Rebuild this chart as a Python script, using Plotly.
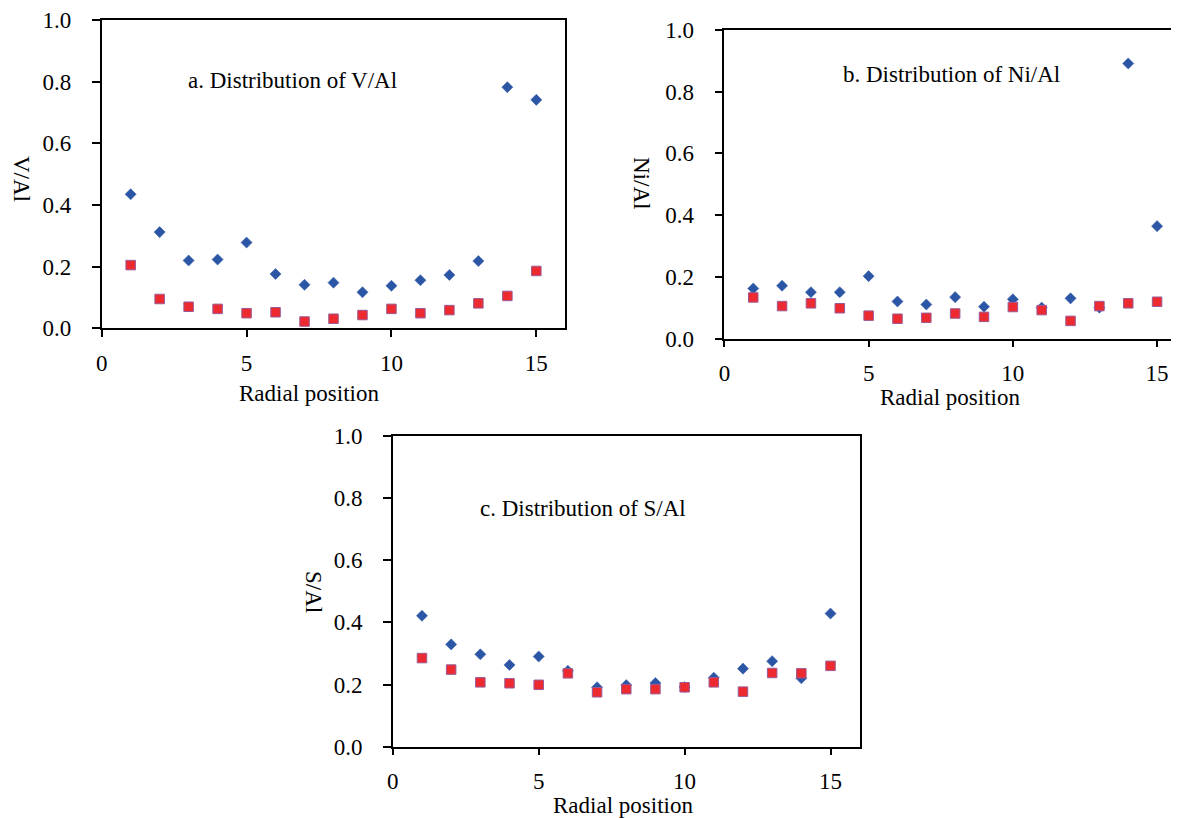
import plotly.graph_objects as go

# Reference canvas and the browser's default 8px body margin
W, H = 1179, 818
OFF = 8
FW, FH = W - OFF, H - OFF

positions = list(range(1, 16))

va_blue = [0.435, 0.312, 0.220, 0.223, 0.278, 0.176, 0.141, 0.148, 0.117, 0.138, 0.156, 0.173, 0.218, 0.782, 0.741]
va_red = [0.205, 0.095, 0.070, 0.063, 0.049, 0.052, 0.022, 0.031, 0.043, 0.063, 0.049, 0.059, 0.081, 0.105, 0.186]

ni_blue = [0.162, 0.171, 0.150, 0.150, 0.202, 0.120, 0.110, 0.134, 0.103, 0.127, 0.100, 0.130, 0.100, 0.891, 0.364]
ni_red = [0.133, 0.105, 0.114, 0.098, 0.074, 0.064, 0.067, 0.081, 0.070, 0.102, 0.092, 0.057, 0.105, 0.114, 0.119]

s_blue = [0.421, 0.329, 0.297, 0.263, 0.290, 0.244, 0.191, 0.198, 0.205, 0.192, 0.222, 0.251, 0.275, 0.220, 0.428]
s_red = [0.285, 0.248, 0.207, 0.204, 0.199, 0.236, 0.175, 0.185, 0.185, 0.191, 0.207, 0.177, 0.237, 0.236, 0.260]

y_ticks = [0.0, 0.2, 0.4, 0.6, 0.8, 1.0]
x_ticks = [0, 5, 10, 15]


def fx(px):
    return (px - OFF) / FW


def fy(py):
    return 1 - (py - OFF) / FH


panels = [
    dict(blue=va_blue, red=va_red, title="a. Distribution of V/Al", ytitle="V/Al",
         px=(101.7, 565.3), py=(20, 328.3), xmax=16, ymirror=True,
         tpos=(292, 80), ytpos=(22, 179), xtpos=(309, 393)),
    dict(blue=ni_blue, red=ni_red, title="b. Distribution of Ni/Al", ytitle="Ni/Al",
         px=(724.4, 1179), py=(29.8, 338.5), xmax=15.76, ymirror=False,
         tpos=(951, 75), ytpos=(641, 183), xtpos=(950, 397)),
    dict(blue=s_blue, red=s_red, title="c. Distribution of S/Al", ytitle="S/Al",
         px=(392.8, 859.7), py=(435.7, 746.7), xmax=16, ymirror=True,
         tpos=(583, 509), ytpos=(314, 592), xtpos=(623, 805)),
]

FONT = "Liberation Serif"
BLUE = "#2B56A6"
RED = "#EC2A30"
RED_EDGE = "#9A5A96"

fig = go.Figure()
annotations = []
layout_axes = {}

for i, p in enumerate(panels, start=1):
    xa = "x" if i == 1 else f"x{i}"
    ya = "y" if i == 1 else f"y{i}"
    fig.add_trace(go.Scatter(x=positions, y=p["blue"], mode="markers", xaxis=xa, yaxis=ya,
                             marker=dict(symbol="diamond", size=8.5, color=BLUE,
                                         line=dict(width=0.6, color="#3A5FA8")),
                             showlegend=False, cliponaxis=False))
    fig.add_trace(go.Scatter(x=positions, y=p["red"], mode="markers", xaxis=xa, yaxis=ya,
                             marker=dict(symbol="square", size=9.5, color=RED,
                                         line=dict(width=1, color=RED_EDGE)),
                             showlegend=False, cliponaxis=False))
    xkey = "xaxis" if i == 1 else f"xaxis{i}"
    ykey = "yaxis" if i == 1 else f"yaxis{i}"
    layout_axes[xkey] = dict(
        domain=[fx(p["px"][0]), min(1.0, fx(p["px"][1]))], anchor=ya, range=[0, p["xmax"]],
        tickvals=x_ticks, ticks="outside", ticklen=7, tickwidth=1.5, tickcolor="black",
        showline=True, linecolor="black", linewidth=1.5, mirror=True,
        showgrid=False, zeroline=False, ticklabelstandoff=6,
        tickfont=dict(family=FONT, size=23, color="black"), automargin=False,
    )
    layout_axes[ykey] = dict(
        domain=[fy(p["py"][1]), fy(p["py"][0])], anchor=xa, range=[0, 1.0],
        tickvals=y_ticks, tickformat=".1f", ticks="outside", ticklen=8, tickwidth=1.5,
        tickcolor="black", showline=True, linecolor="black", linewidth=1.5,
        mirror=p["ymirror"], showgrid=False, zeroline=False, ticklabelstandoff=16,
        tickfont=dict(family=FONT, size=23, color="black"), automargin=False,
    )
    annotations.append(dict(text=p["title"], xref="paper", yref="paper",
                            x=fx(p["tpos"][0]), y=fy(p["tpos"][1]), showarrow=False,
                            xanchor="center", yanchor="middle",
                            font=dict(family=FONT, size=23, color="black")))
    annotations.append(dict(text=p["ytitle"], xref="paper", yref="paper",
                            x=fx(p["ytpos"][0]), y=fy(p["ytpos"][1]), showarrow=False,
                            textangle=90, xanchor="center", yanchor="middle",
                            font=dict(family=FONT, size=23, color="black")))
    annotations.append(dict(text="Radial position", xref="paper", yref="paper",
                            x=fx(p["xtpos"][0]), y=fy(p["xtpos"][1]), showarrow=False,
                            xanchor="center", yanchor="middle",
                            font=dict(family=FONT, size=23, color="black")))

fig.update_layout(
    width=FW, height=FH,
    margin=dict(l=0, r=0, t=0, b=0),
    paper_bgcolor="white", plot_bgcolor="white",
    annotations=annotations,
    **layout_axes,
)

fig.write_html("out.html")
